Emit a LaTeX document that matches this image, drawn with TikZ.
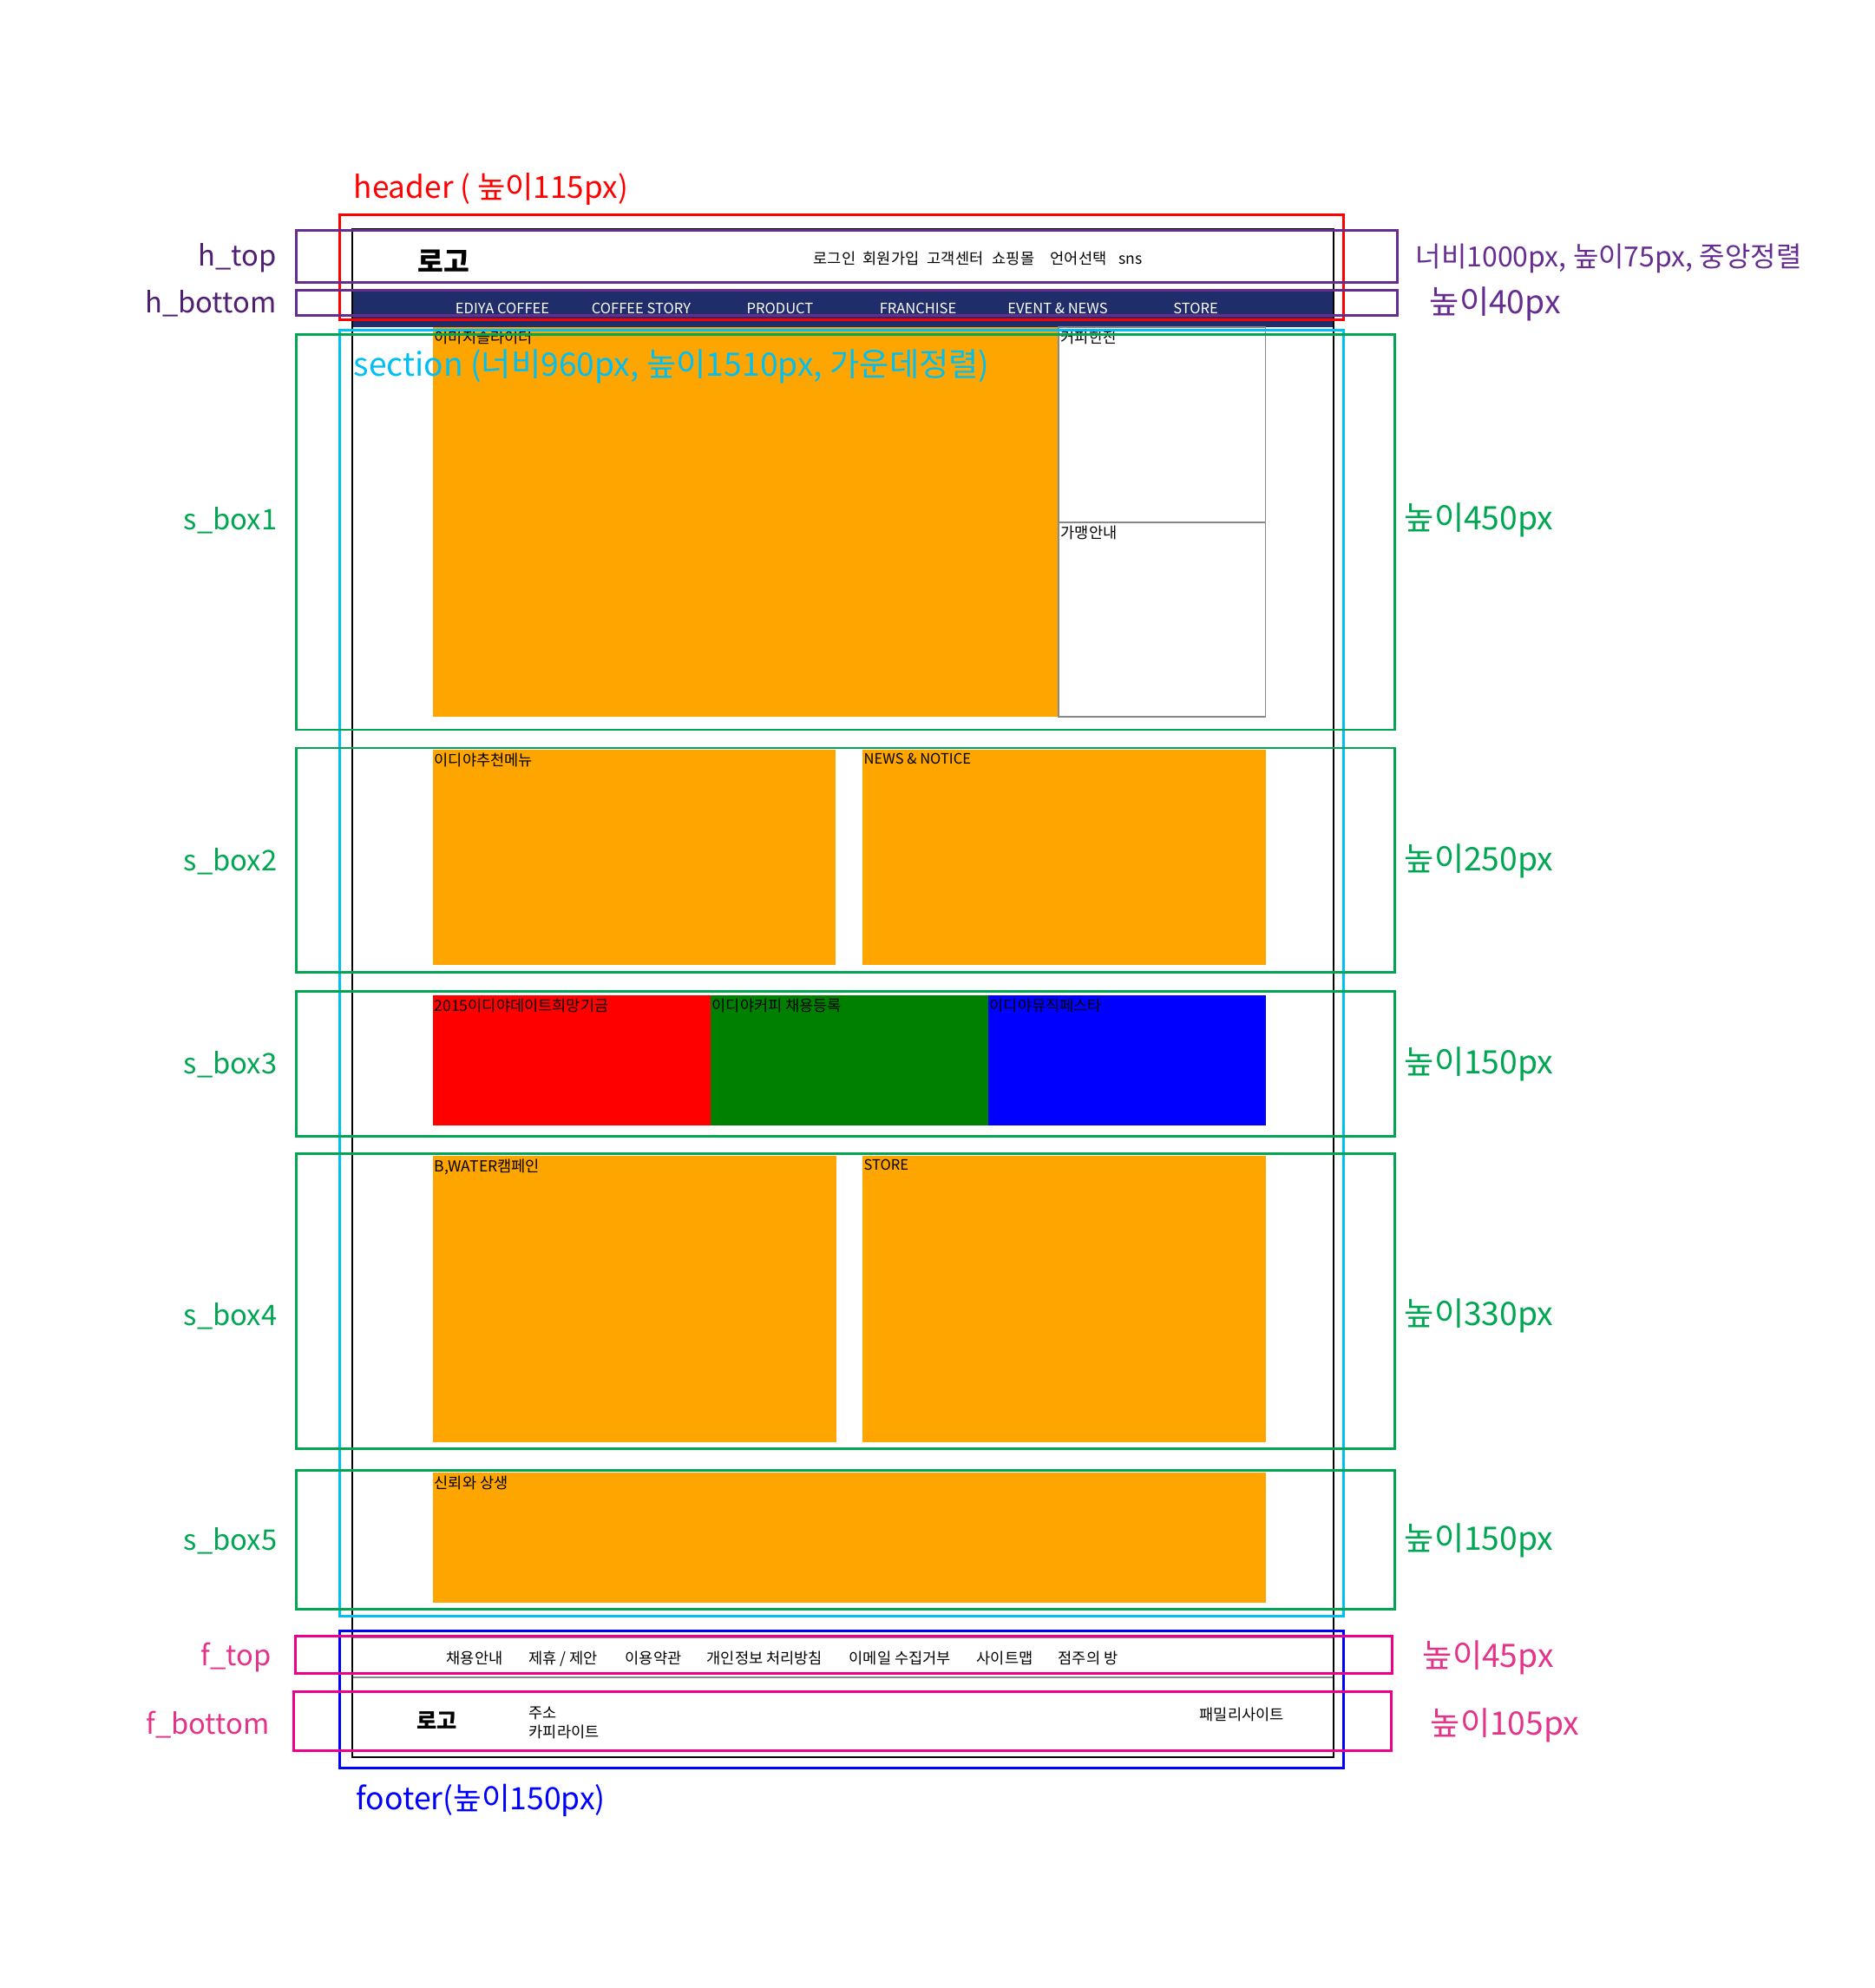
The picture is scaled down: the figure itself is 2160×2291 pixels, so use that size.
\documentclass[tikz,border=0pt]{standalone}
\usepackage{fontspec}
\setmainfont{Noto Sans CJK KR}
\usetikzlibrary{positioning}
\definecolor{hdred}{HTML}{FF0000}
\definecolor{hpurple}{HTML}{662D91}
\definecolor{hpurpletxt}{HTML}{4E1F73}
\definecolor{scyan}{HTML}{00BFF3}
\definecolor{sgreen}{HTML}{00A651}
\definecolor{fblue}{HTML}{0000FF}
\definecolor{fpink}{HTML}{EC008C}
\definecolor{fpinktxt}{HTML}{E2358A}
\definecolor{navbar}{HTML}{1F2D6A}
\definecolor{boxorange}{HTML}{FFA500}
\definecolor{boxgreen}{HTML}{008000}
\definecolor{linegray}{HTML}{888888}

\begin{document}
\begin{tikzpicture}[x=0.1mm, y=-0.1mm,
  guide/.style={line width=0.85pt},
  tag/.style={font=\fontsize{9.3}{11}\selectfont, inner sep=0pt, anchor=base east},
  sizetag/.style={font=\fontsize{10.6}{12}\selectfont, inner sep=0pt, anchor=base west},
  small/.style={font=\fontsize{5}{6}\selectfont, inner sep=0pt},
  latin/.style={font=\fontsize{4.7}{6}\selectfont, inner sep=0pt},
  boxtxt/.style={small, anchor=north west}]

\useasboundingbox (0,0) rectangle (2160,2291);

% Page content
\fill[navbar] (406,336) rectangle (1537,377);
\fill[boxorange] (499,377) rectangle (1220,826);
\draw[linegray, line width=0.3pt] (1220,377) rectangle (1458,826);
\draw[linegray, line width=0.6pt] (1220,602) -- (1458,602);
\fill[boxorange] (499,864) rectangle (963,1112);
\fill[boxorange] (994,864) rectangle (1459,1112);
\fill[hdred] (499,1147) rectangle (819,1297);
\fill[boxgreen] (819,1147) rectangle (1139,1297);
\fill[fblue] (1139,1147) rectangle (1459,1297);
\fill[boxorange] (499,1332) rectangle (964,1662);
\fill[boxorange] (994,1332) rectangle (1459,1662);
\fill[boxorange] (499,1697) rectangle (1459,1847);
\draw[linegray, line width=0.5pt] (406,1887) -- (1537,1887);
\draw[linegray, line width=0.5pt] (406,1933) -- (1537,1933);
\draw[black, line width=0.35pt] (406,264) rectangle (1537,2025);

% Header texts
\node[font=\fontsize{9.2}{10}\selectfont\bfseries, inner sep=0pt, anchor=base west] (hlogo) at (481,314) {로고};
\foreach \x/\t [count=\i] in {937/로그인, 994/회원가입, 1068/고객센터, 1143/쇼핑몰, 1210/언어선택, 1289/sns}
  \node[small, anchor=base west] (topmenu\i) at (\x,305) {\t};
\foreach \x/\t [count=\i] in {579/EDIYA COFFEE, 739/COFFEE STORY, 899/PRODUCT, 1058/FRANCHISE, 1219/EVENT \& NEWS, 1378/STORE}
  \node[latin, text=white, anchor=base] (nav\i) at (\x,362) {\t};

% Section texts
\node[boxtxt] (slider) at (500,380) {이미지슬라이더};
\node[boxtxt] (coffee) at (1222,380) {커피한잔};
\node[boxtxt] (franchise) at (1222,605) {가맹안내};
\node[boxtxt] (menu) at (500,867) {이디야추천메뉴};
\node[boxtxt, latin] (news) at (995,867) {NEWS \& NOTICE};
\node[boxtxt] (fund) at (500,1150) {2015이디야데이트희망기금};
\node[boxtxt] (recruit) at (820,1150) {이디야커피 채용등록};
\node[boxtxt] (festa) at (1140,1150) {이디야뮤직페스타};
\node[boxtxt] (bwater) at (500,1335) {B,WATER캠페인};
\node[boxtxt, latin] (store) at (995,1335) {STORE};
\node[boxtxt] (trust) at (500,1700) {신뢰와 상생};

% Footer texts
\foreach \x/\t [count=\i] in {514/채용안내, 609/{제휴 / 제안}, 720/이용약관, 814/개인정보 처리방침, 978/이메일 수집거부, 1125/사이트맵, 1219/점주의 방}
  \node[small, anchor=base west] (fmenu\i) at (\x,1917) {\t};
\node[font=\fontsize{7.2}{8}\selectfont\bfseries, inner sep=0pt, anchor=base west] (flogo) at (480,1992) {로고};
\node[small, anchor=base west] (addr) at (609,1980) {주소};
\node[small, anchor=base west] (copy) at (609,2002) {카피라이트};
\node[small, anchor=base west] (family) at (1382,1982) {패밀리사이트};

% Header guides
\draw[guide, hdred] (391,248) rectangle (1548,369);
\draw[guide, hpurple] (341,266) rectangle (1610,326);
\draw[guide, hpurple] (341,335) rectangle (1610,364);
\node[sizetag, font=\fontsize{10}{12}\selectfont, text=hdred] (headerlbl) at (407,229) {header ( 높이115px)};
\node[tag, text=hpurpletxt] (htoplbl) at (319,307) {h\_top};
\node[tag, text=hpurpletxt] (hbotlbl) at (319,361) {h\_bottom};
\node[sizetag, font=\fontsize{9.1}{11}\selectfont, text=hpurple] (htopsize) at (1631,308) {너비1000px, 높이75px, 중앙정렬};
\node[sizetag, text=hpurple] (hbotsize) at (1647,362) {높이40px};

% Section guides
\draw[guide, scyan] (391,381) rectangle (1548,1862);
\node[sizetag, text=scyan] (sectionlbl) at (407,434) {section (너비960px, 높이1510px, 가운데정렬)};
\foreach \top/\bot/\base/\h/\i in {386/841/611/450/1, 862/1120/1003/250/2, 1142/1309/1237/150/3, 1329/1669/1527/330/4, 1694/1854/1786/150/5} {
  \draw[guide, sgreen] (341,\top) rectangle (1607,\bot);
  \node[tag, text=sgreen] (sbox\i) at (320,\base) {s\_box\i};
  \node[sizetag, text=sgreen] (ssize\i) at (1618,\base) {높이\h px};
}

% Footer guides
\draw[guide, fblue] (391,1879) rectangle (1548,2037);
\draw[guide, fpink] (340,1885) rectangle (1604,1928);
\draw[guide, fpink] (338,1949) rectangle (1603,2017);
\node[sizetag, font=\fontsize{10.1}{12}\selectfont, text=fblue] (footerlbl) at (410,2085) {footer(높이150px)};
\node[tag, text=fpinktxt] (ftoplbl) at (313,1919) {f\_top};
\node[tag, text=fpinktxt] (fbotlbl) at (311,1998) {f\_bottom};
\node[sizetag, text=fpinktxt] (ftopsize) at (1639,1921) {높이45px};
\node[sizetag, text=fpinktxt] (fbotsize) at (1648,1999) {높이105px};

\end{tikzpicture}
\end{document}
